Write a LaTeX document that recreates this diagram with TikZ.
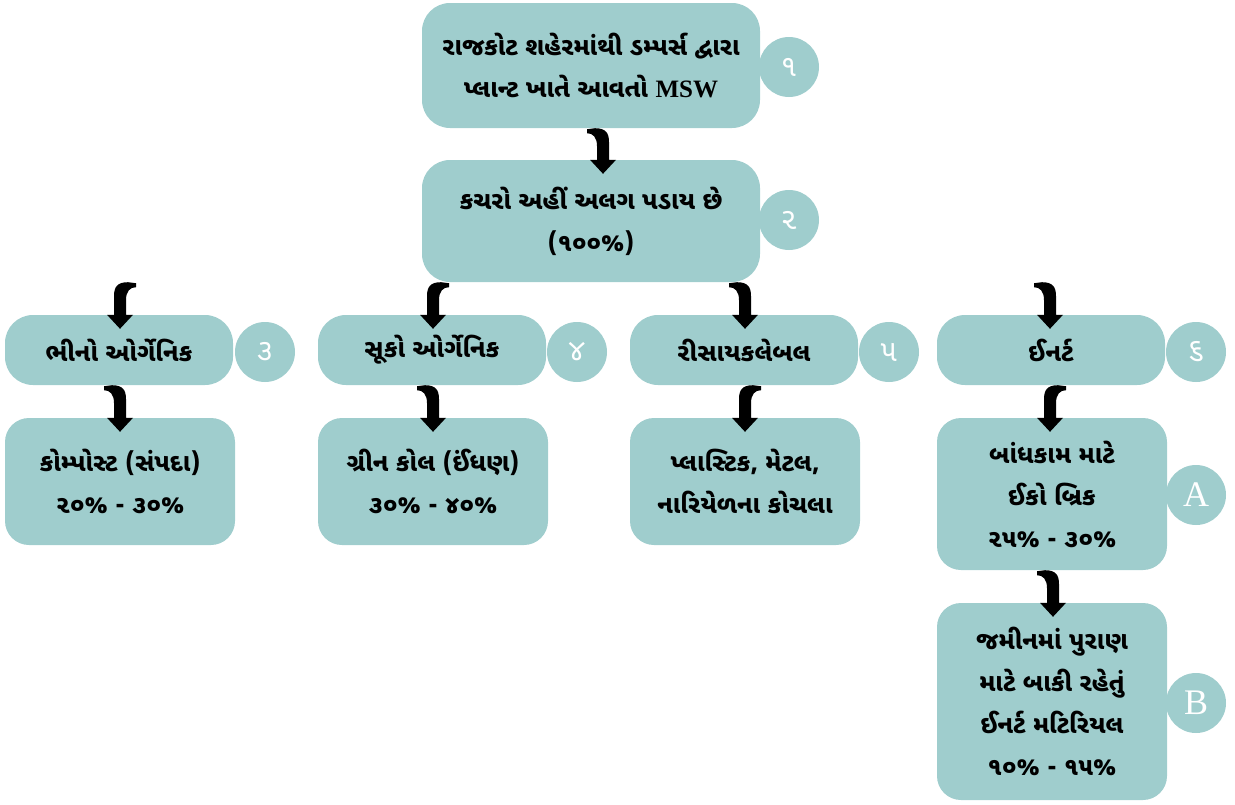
\documentclass[tikz,border=0pt]{standalone}
\usepackage{fontspec}
\usetikzlibrary{calc}
\newfontfamily\guj[Script=Gujarati]{Noto Sans Gujarati UI}
\newfontfamily\lat{Liberation Serif}
\definecolor{teal}{RGB}{159,205,205}
\tikzset{
  box/.style={fill=teal, rounded corners=28pt, align=center, inner sep=0pt,
    font=\guj\bfseries\fontsize{25}{42}\selectfont, text=black},
  badge/.style={circle, fill=teal, minimum size=60pt, inner sep=0pt, text=white,
    font=\guj\fontsize{30}{32}\selectfont},
  latbadge/.style={badge, font=\lat\fontsize{36}{38}\selectfont},
}
\newcommand\hookarrow[4]{%
\fill let \p1=(#1.south), \p2=($(#2.north)+(#3,14)$) in
 (\x2,\y2) -- ({\x2+#4*13pt},{\y2+14pt}) -- ({\x2+#4*6pt},{\y2+14pt})
 -- ({\x2+#4*6pt},{\y1-14pt})
 .. controls ({\x2+#4*6pt},{\y1-5pt}) and ({\x2+#4*3pt},{\y1}) .. ({\x2-#4*8pt},{\y1})
 -- ({\x2-#4*16pt},{\y1-1pt}) -- ({\x2-#4*16pt},{\y1-5pt})
 .. controls ({\x2-#4*10pt},{\y1-5pt}) and ({\x2-#4*6pt},{\y1-9pt}) .. ({\x2-#4*6pt},{\y1-18pt})
 -- ({\x2-#4*6pt},{\y2+14pt}) -- ({\x2-#4*13pt},{\y2+14pt}) -- cycle;}
\begin{document}
\begin{tikzpicture}[x=1pt,y=-1pt]
\useasboundingbox (0,0) rectangle (1235,804);
% row 0/1
\node[box, minimum width=338pt, minimum height=125pt] (n1) at (591,65.5)
  {રાજકોટ શહેરમાંથી ડમ્પર્સ દ્વારા\\પ્લાન્ટ ખાતે આવતો {\lat\bfseries MSW}};
\node[box, minimum width=338pt, minimum height=122pt] (n2) at (591,221)
  {કચરો અહીં અલગ પડાય છે\\(૧૦૦\%)};
\node[badge] (c1) at (789,67) {૧};
\node[badge] (c2) at (789,220) {૨};
% row 2
\node[box, minimum width=228pt, minimum height=70pt] (n3) at (119,350) {ભીનો ઓર્ગેનિક};
\node[box, minimum width=228pt, minimum height=70pt] (n4) at (432,350) {સૂકો ઓર્ગેનિક};
\node[box, minimum width=228pt, minimum height=70pt] (n5) at (744,350) {રીસાયકલેબલ};
\node[box, minimum width=228pt, minimum height=70pt] (n6) at (1051,350) {ઈનર્ટ};
\node[badge] (c3) at (265,352) {૩};
\node[badge] (c4) at (577,352) {૪};
\node[badge] (c5) at (889,352) {૫};
\node[badge] (c6) at (1196,352) {૬};
% row 3
\node[box, rounded corners=24pt, minimum width=230pt, minimum height=127pt] (m3) at (120,481.5)
  {કોમ્પોસ્ટ (સંપદા)\\૨૦\% - ૩૦\%};
\node[box, rounded corners=24pt, minimum width=230pt, minimum height=127pt] (m4) at (433,481.5)
  {ગ્રીન કોલ (ઈંધણ)\\૩૦\% - ૪૦\%};
\node[box, rounded corners=24pt, minimum width=230pt, minimum height=127pt] (m5) at (745,481.5)
  {પ્લાસ્ટિક, મેટલ,\\નારિયેળના કોચલા};
\node[box, rounded corners=24pt, minimum width=230pt, minimum height=152pt] (ma) at (1052,494)
  {બાંધકામ માટે\\ઈકો બ્રિક\\૨૫\% - ૩૦\%};
\node[box, rounded corners=24pt, minimum width=230pt, minimum height=197pt] (mb) at (1052,701.5)
  {જમીનમાં પુરાણ\\માટે બાકી રહેતું\\ઈનર્ટ મટિરિયલ\\૧૦\% - ૧૫\%};
\node[latbadge] (ca) at (1196,495) {A};
\node[latbadge] (cb) at (1196,703) {B};
% arrows
\hookarrow{n1}{n2}{12}{1}
\hookarrow{n2}{n3}{1}{-1}
\hookarrow{n2}{n4}{1}{-1}
\hookarrow{n2}{n5}{1}{1}
\hookarrow{n2}{n6}{-1}{1}
\hookarrow{n3}{m3}{0}{1}
\hookarrow{n4}{m4}{0}{1}
\hookarrow{n5}{m5}{0}{-1}
\hookarrow{n6}{ma}{-2}{-1}
\hookarrow{ma}{mb}{1}{1}
\end{tikzpicture}
\end{document}
